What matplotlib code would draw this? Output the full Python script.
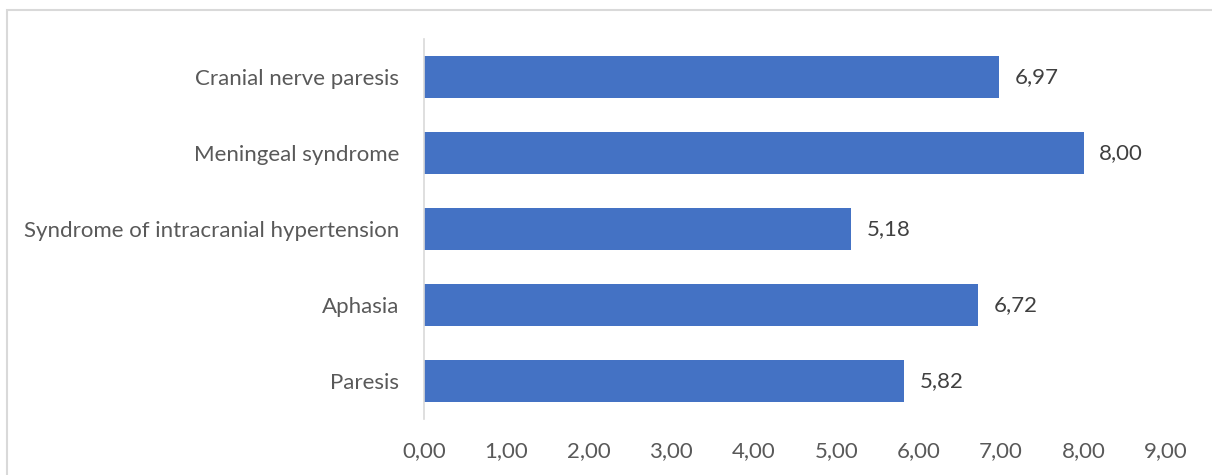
import matplotlib
matplotlib.use('Agg')
import matplotlib.pyplot as plt
from matplotlib.patches import Rectangle

categories = ['Paresis', 'Aphasia', 'Syndrome of intracranial hypertension',
              'Meningeal syndrome', 'Cranial nerve paresis']
values = [5.82, 6.72, 5.18, 8.00, 6.97]
xticks = [0, 1, 2, 3, 4, 5, 6, 7, 8, 9]

plt.rcParams['font.family'] = ['Lato', 'DejaVu Sans']

W, H = 1212, 475
fig = plt.figure(figsize=(W / 100, H / 100), dpi=100)
ax = fig.add_axes([424 / W, 1 - 419 / H, (1166 - 424) / W, (419 - 39) / H])

# light grey frame around the chart area (runs off right and bottom)
fig.patches.append(Rectangle((7 / W, -0.05), 1.1, 1 - 9.5 / H + 0.05,
                             transform=fig.transFigure, fill=False,
                             edgecolor='#d9d9d9', linewidth=1.5))

ypos = range(len(categories))
ax.barh(ypos, values, height=0.55, color='#4472c4')
for y, v in zip(ypos, values):
    ax.text(v + 0.19, y, f'{v:.2f}'.replace('.', ','), va='center', ha='left',
            fontsize=16, color='#404040')

ax.set_xlim(0, 9)
ax.set_ylim(-0.5, len(categories) - 0.5)
ax.set_yticks(list(ypos))
ax.set_yticklabels(categories)
ax.set_xticks(xticks)
ax.set_xticklabels([f'{t:.2f}'.replace('.', ',') for t in xticks])
ax.tick_params(axis='both', length=0, labelsize=16, labelcolor='#595959')
ax.tick_params(axis='y', pad=18)
ax.tick_params(axis='x', pad=16)
for s in ['top', 'right', 'bottom']:
    ax.spines[s].set_visible(False)
ax.spines['left'].set_color('#d9d9d9')
ax.spines['left'].set_linewidth(1.2)

fig.savefig('out.png', dpi=100)
